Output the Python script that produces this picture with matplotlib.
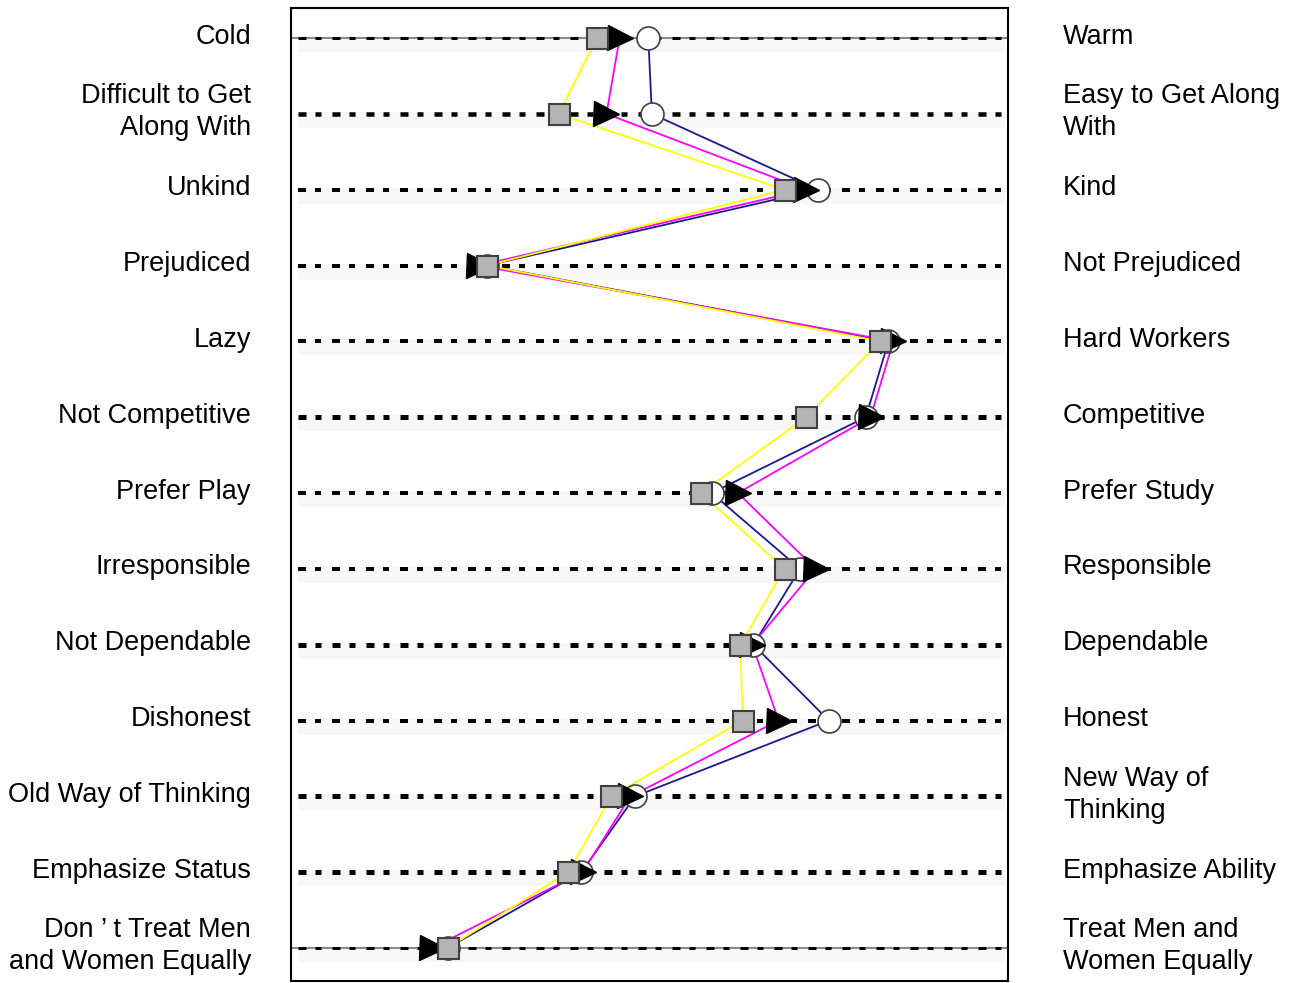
import numpy as np
import matplotlib
matplotlib.use("Agg")
import matplotlib.pyplot as plt
import matplotlib.transforms as mtransforms

plt.rcParams['font.family'] = ['Liberation Sans', 'DejaVu Sans']
plt.rcParams['lines.scale_dashes'] = False

left_labels = ["Cold", "Difficult to Get\nAlong With", "Unkind", "Prejudiced", "Lazy",
               "Not Competitive", "Prefer Play", "Irresponsible", "Not Dependable",
               "Dishonest", "Old Way of Thinking", "Emphasize Status",
               "Don \u2019 t Treat Men\nand Women Equally"]
right_labels = ["Warm", "Easy to Get Along\nWith", "Kind", "Not Prejudiced", "Hard Workers",
                "Competitive", "Prefer Study", "Responsible", "Dependable",
                "Honest", "New Way of\nThinking", "Emphasize Ability",
                "Treat Men and\nWomen Equally"]

# scale positions (1 = left end, 7 = right end)
squares = [3.56, 3.24, 5.13, 2.64, 5.93, 5.31, 4.43, 5.13, 4.76, 4.78, 3.68, 3.32, 2.31]
triangles = [3.75, 3.64, 5.31, 2.57, 6.04, 5.85, 4.74, 5.39, 4.86, 5.08, 3.84, 3.44, 2.18]
circles = [3.99, 4.02, 5.41, 2.64, 6.00, 5.81, 4.52, 5.26, 4.87, 5.50, 3.88, 3.43, 2.31]

# row line thickness (px)
row_width = [3, 4.5, 4, 4, 4, 5, 4, 4, 5, 4, 5, 5, 3]

fig = plt.figure(figsize=(13, 9.83), dpi=100)
ax = fig.add_axes([291 / 1300, 2 / 983, 717 / 1300, 973 / 983])

rows = np.arange(len(left_labels))
px = 72 / 100.0

x0 = 1 + 6 * 7 / 717
x1 = 1 + 6 * 714 / 717
for i in rows:
    ax.plot([x0, x1], [i + 0.08, i + 0.08], color='#f7f7f7', lw=16 * px,
            solid_capstyle='butt', zorder=0)
    if i == 0 or i == len(rows) - 1:
        ax.plot([1, 7], [i, i], color='#8a8a8a', lw=2 * px, zorder=1)
    ln, = ax.plot([x0, x1], [i, i], color='black', lw=row_width[i] * px, zorder=1.5,
                  solid_capstyle='butt', dash_capstyle='butt')
    ln.set_dashes((8 * px, 9 * px, 6 * px, 11 * px))

ax.plot(circles, rows, color='#1a1a8c', lw=1.8 * px, zorder=2)
ax.plot(triangles, rows, color='#ff00ff', lw=1.8 * px, zorder=2.1)
ax.plot(squares, rows, color='#ffff00', lw=1.8 * px, zorder=2.2)

ax.plot(circles, rows, ls='none', marker='o', ms=23 * px, mfc='white', mec='#404040',
        mew=1.2, zorder=3)
ax.plot(triangles, rows, ls='none', marker='>', ms=25 * px, mfc='black', mec='black',
        mew=1, zorder=4)
ax.plot(squares, rows, ls='none', marker='s', ms=21 * px, mfc='#b4b4b4', mec='#404040',
        mew=1.5, zorder=5)

ax.set_xlim(1, 7)
ax.set_ylim(12.435, -0.396)
ax.set_xticks([])
ax.set_yticks([])
for s in ax.spines.values():
    s.set_linewidth(1.5)

trans = mtransforms.blended_transform_factory(ax.transAxes, ax.transData)
for i in rows:
    ax.text((251 - 291) / 717, i - 0.02, left_labels[i], transform=trans, ha='right',
            va='center', fontsize=19.5, linespacing=1.3, clip_on=False)
    ax.text((1063 - 291) / 717, i - 0.02, right_labels[i], transform=trans, ha='left',
            va='center', fontsize=19.5, linespacing=1.3, clip_on=False)

plt.savefig("out.png", dpi=100)
